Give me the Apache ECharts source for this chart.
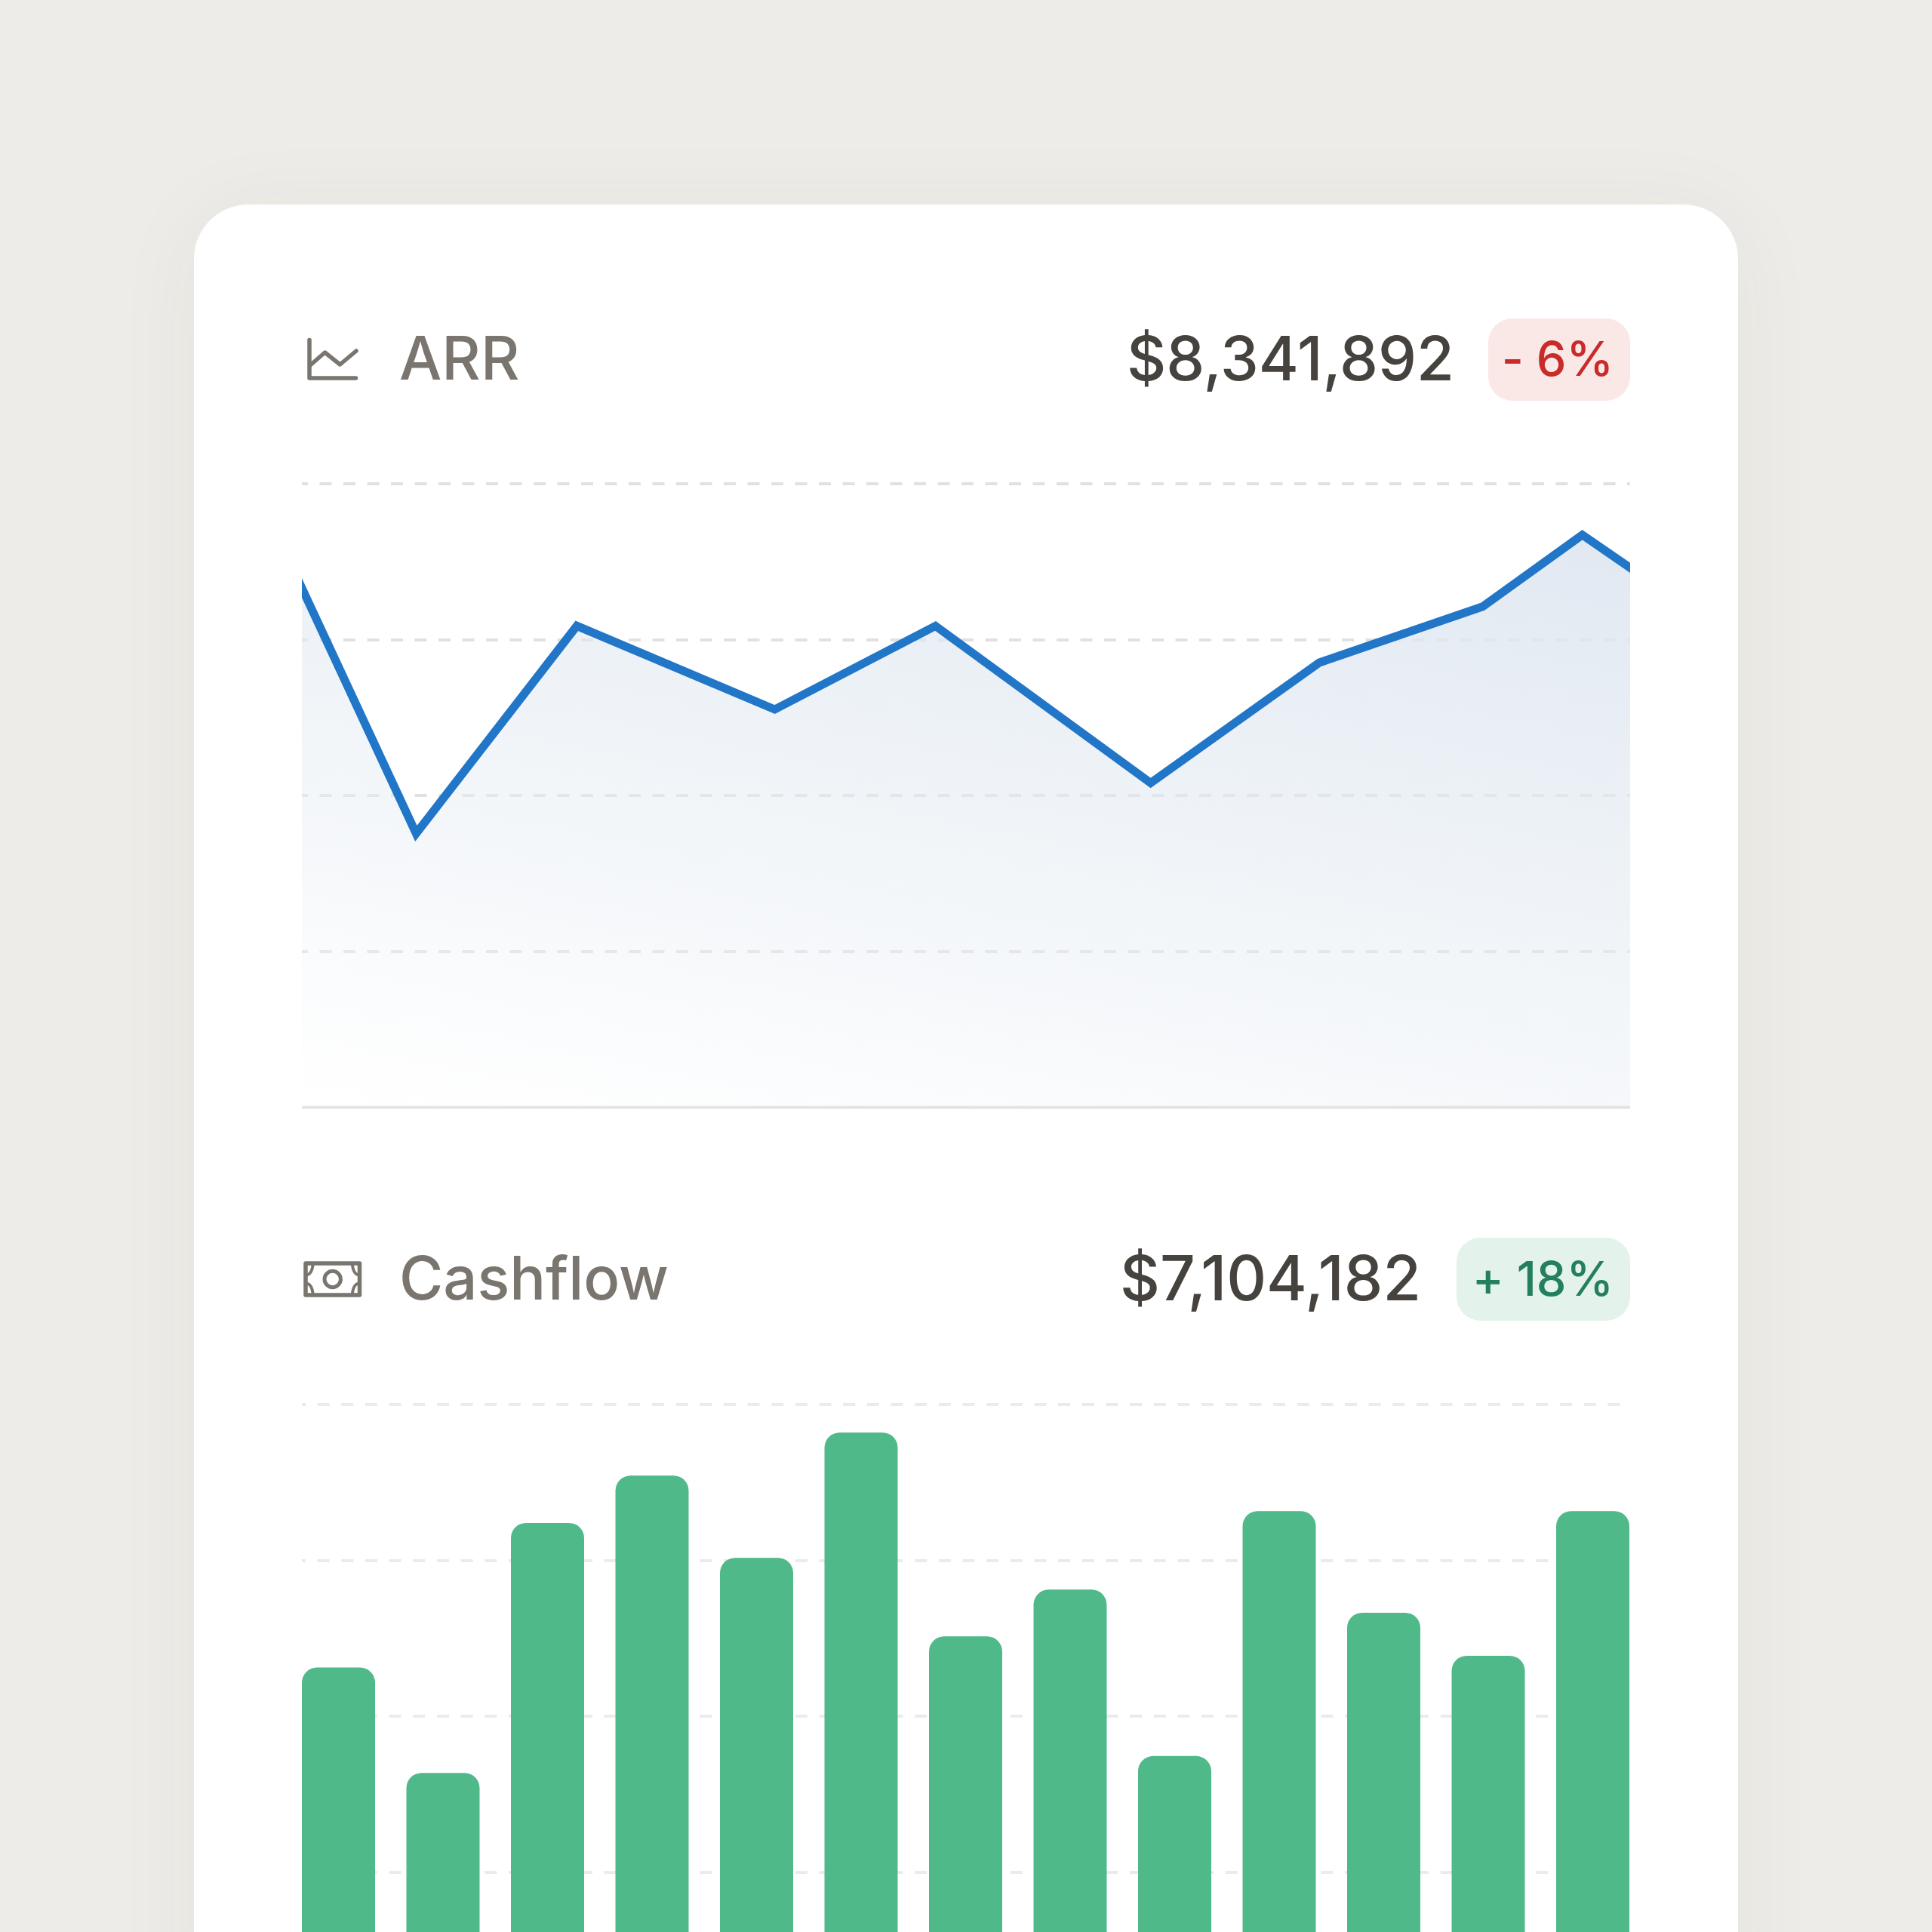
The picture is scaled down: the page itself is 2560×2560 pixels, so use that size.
<!DOCTYPE html>
<html>
<head>
<meta charset="utf-8">
<style>html,body{margin:0;padding:0;background:#edece8}#c{width:2560px;height:2560px}</style>
<script src="https://cdn.jsdelivr.net/npm/echarts@6/dist/echarts.min.js"></script>
</head>
<body>
<div id="c"></div>
<script>
// ARR line: x position along the period (0-100 is the visible window), y on a 0-100 scale
const arrX = [-1.14, 8.6, 20.7, 35.6, 47.7, 63.9, 76.6, 88.9, 96.4, 101.1];
const arrY = [88.5, 43.9, 77.2, 63.8, 77.2, 52.0, 71.3, 80.3, 91.8, 84.9];
// Cashflow bars
const cashCategories = ['1','2','3','4','5','6','7','8','9','10','11','12','13'];
const cashValues = [57.8, 40.9, 81.0, 88.6, 75.4, 95.5, 62.8, 70.3, 43.6, 82.9, 66.6, 59.7, 82.9];
// Header texts
const arrTitle = 'ARR', arrTotal = '$8,341,892', arrDelta = '- 6%';
const cashTitle = 'Cashflow', cashTotal = '$7,104,182', cashDelta = '+ 18%';

const FONT = 'Inter, "Noto Sans", sans-serif';
const GREY = '#7a756e';
const txt = (text, x, y, size, fill, align) => ({
  type: 'text', z: 5, x, y, silent: true,
  style: { text, x: 0, y: 0, fill, font: `500 ${size}px ${FONT}`, textAlign: align, textVerticalAlign: 'middle' }
});
const strokeStyle = (lineWidth) => ({ fill: null, stroke: GREY, lineWidth, lineCap: 'round', lineJoin: 'round' });
const poly = (points, lineWidth) => ({ type: 'polyline', z: 5, silent: true, shape: { points }, style: strokeStyle(lineWidth) });
const curve = (x1, y1, cpx1, cpy1, x2, y2) => ({ type: 'bezierCurve', z: 5, silent: true, shape: { x1, y1, cpx1, cpy1, x2, y2 }, style: strokeStyle(4) });
const badge = (x, y, width, height, fill) => ({
  type: 'rect', z: 4, silent: true, shape: { x, y, width, height, r: 32 }, style: { fill }
});
const cover = (x) => ({
  type: 'rect', z: 6, silent: true, shape: { x, y: 640, width: 8, height: 829 }, style: { fill: '#ffffff' }
});

const graphicElements = [
  { type: 'rect', z: -1, silent: true, shape: { x: 257, y: 271, width: 2046, height: 2600, r: 72 },
    style: { fill: '#ffffff', shadowBlur: 120, shadowColor: 'rgba(60,55,40,0.05)', shadowOffsetY: 10 } },
  cover(392), cover(2160),
  poly([[410, 450.5], [410, 501], [471.5, 501]], 5.5),
  poly([[411, 484], [430.5, 467], [450.5, 483], [472, 465]], 5.5),
  txt(arrTitle, 529, 479, 79.5, GREY, 'left'),
  txt(arrTotal, 1927, 479.5, 81, '#46433f', 'right'),
  badge(1972, 422, 188, 109, '#fae8e6'),
  txt(arrDelta, 2138, 479, 63, '#c92a2a', 'right'),
  { type: 'rect', z: 5, silent: true, shape: { x: 405, y: 1674, width: 71.5, height: 42 }, style: strokeStyle(5.5) },
  { type: 'circle', z: 5, silent: true, shape: { cx: 440.7, cy: 1695, r: 10.7 }, style: strokeStyle(5) },
  curve(414.5, 1677, 413, 1687, 408, 1689),
  curve(467, 1677, 468.5, 1687, 473.5, 1689),
  curve(408, 1701, 413, 1703, 414.5, 1713),
  curve(473.5, 1701, 468.5, 1703, 467, 1713),
  txt(cashTitle, 529, 1698, 79.5, GREY, 'left'),
  txt(cashTotal, 1883, 1698.5, 82, '#46433f', 'right'),
  badge(1930, 1640, 230, 110, '#e3f2ea'),
  txt(cashDelta, 2138, 1698, 63, '#247f5c', 'right')
];

const hiddenAxisBits = { axisLabel: { show: false }, axisTick: { show: false }, axisLine: { show: false }, splitLine: { show: false } };

const option = {
  animation: false,
  backgroundColor: '#edece8',
  graphic: { elements: graphicElements },
  grid: [
    { left: 400, top: 641, width: 1760, height: 826, outerBoundsMode: 'none' },
    { left: 379.25, top: 1861, width: 1800.5, height: 826, outerBoundsMode: 'none' },
    { left: 400, top: 1861, width: 1748, height: 826, outerBoundsMode: 'none' }
  ],
  xAxis: [
    { gridIndex: 0, type: 'value', min: 0, max: 100, ...hiddenAxisBits,
      axisLine: { show: true, onZero: false, lineStyle: { color: '#e3e1df', width: 4 } } },
    { gridIndex: 1, type: 'category', data: cashCategories, ...hiddenAxisBits },
    { gridIndex: 2, type: 'value', min: 0, max: 100, ...hiddenAxisBits }
  ],
  yAxis: [
    { gridIndex: 0, type: 'value', min: 0, max: 100, interval: 25, ...hiddenAxisBits,
      splitLine: { show: true, lineStyle: { color: '#e3e1df', width: 4, type: [16, 15.5], dashOffset: 8 } } },
    { gridIndex: 1, type: 'value', min: 0, max: 100, interval: 25, ...hiddenAxisBits },
    { gridIndex: 2, type: 'value', min: 0, max: 100, interval: 25, ...hiddenAxisBits,
      splitLine: { show: true, lineStyle: { color: '#ecebe9', width: 4, type: [16, 15.66], dashOffset: 11 } } }
  ],
  series: [
    {
      type: 'line', xAxisIndex: 0, yAxisIndex: 0, showSymbol: false, symbol: 'none',
      data: arrX.map((x, i) => [x, arrY[i]]),
      lineStyle: { color: '#2176c7', width: 11, join: 'miter', miterLimit: 10 },
      itemStyle: { color: '#2176c7' },
      areaStyle: {
        origin: 'start',
        opacity: 1,
        color: {
          type: 'linear', global: true, x: 2160, y: 700, x2: 1945, y2: 1776,
          colorStops: [
            { offset: 0, color: 'rgba(222,230,240,0.92)' },
            { offset: 0.4, color: 'rgba(225,233,241,0.6)' },
            { offset: 0.7, color: 'rgba(232,238,244,0.4)' },
            { offset: 1, color: 'rgba(255,255,255,0.3)' }
          ]
        }
      }
    },
    {
      type: 'bar', xAxisIndex: 1, yAxisIndex: 1, data: cashValues, barWidth: 97,
      itemStyle: { color: '#50b98a', borderRadius: [20, 20, 0, 0] }
    }
  ]
};
const chart = echarts.init(document.getElementById('c'), null, { renderer: 'canvas', width: 2560, height: 2560 });
chart.setOption(option);
</script>
</body>
</html>
